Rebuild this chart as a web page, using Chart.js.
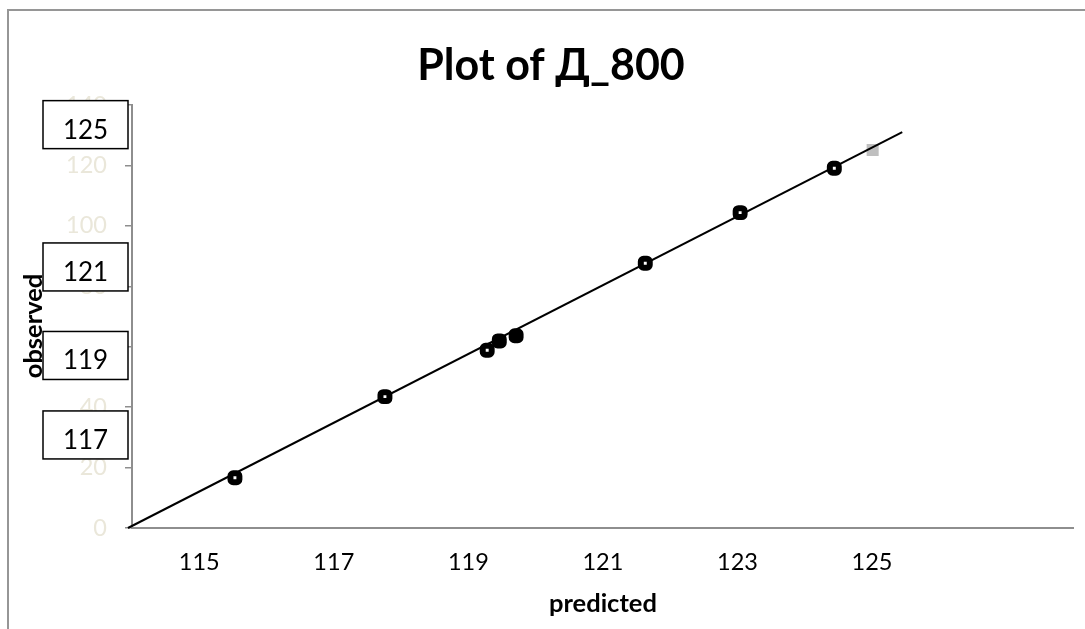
<!DOCTYPE html>
<html>
<head>
<meta charset="utf-8">
<title>Plot of Д_800</title>
<script src="https://cdn.jsdelivr.net/npm/chart.js@4.4.0/dist/chart.umd.min.js"></script>
<style>
  html, body { margin: 0; padding: 0; background: #fff; width: 1085px; height: 629px; overflow: hidden; }
  #frame { position: absolute; left: 7px; top: 9px; width: 1200px; height: 700px;
           border-top: 2px solid #969696; border-left: 2px solid #969696; }
  #wrap { position: absolute; left: 17px; top: 0; width: 1068px; height: 629px; }
</style>
</head>
<body>
<div id="frame"></div>
<div id="wrap"><canvas id="chart"></canvas></div>
<script>
// Observed vs predicted values for Д_800
const predicted = [115.53, 117.76, 119.28, 119.46, 119.71, 121.63, 123.04, 124.44];
const observed  = [115.40, 117.76, 119.11, 119.38, 119.53, 121.64, 123.11, 124.40];

// Case left out of the fit (grey marker)
const excludedPredicted = [125.01];
const excludedObserved  = [124.93];

// Fitted line, observed = predicted
const fitPredicted = [113.94, 125.45];
const fitObserved  = [113.94, 125.45];

// Axis labels
const xTickValues = [115, 117, 119, 121, 123, 125];
const yTickValues = [0, 20, 40, 60, 80, 100, 120, 140];
const observedLabels = ['125', '121', '119', '117'];

// Markers drawn solid instead of hollow
const solidMarks = [3, 4];

Chart.defaults.font.family = 'Lato, "Open Sans", sans-serif';

const toPoints = (xs, ys) => xs.map((x, i) => ({ x, y: ys[i] }));

// Boxed value labels next to the observed axis
const boxedLabels = {
  id: 'boxedLabels',
  afterDraw(chart, args, opts) {
    const { ctx, chartArea } = chart;
    const yScale = chart.scales.y;
    ctx.save();
    opts.texts.forEach((text, i) => {
      const cy = yScale.getPixelForValue(opts.levels[i]);
      const right = chartArea.left - opts.gap;
      const left = right - opts.width;
      const top = cy - opts.height / 2;
      ctx.fillStyle = '#ffffff';
      ctx.fillRect(left, top, opts.width, opts.height);
      ctx.strokeStyle = '#000000';
      ctx.lineWidth = 1.5;
      ctx.strokeRect(left, top, opts.width, opts.height);
      ctx.fillStyle = '#000000';
      ctx.font = opts.font;
      ctx.textAlign = 'center';
      ctx.textBaseline = 'alphabetic';
      ctx.fillText(text, left + opts.width / 2, cy + opts.baselineShift);
    });
    ctx.restore();
  }
};

new Chart(document.getElementById('chart'), {
  type: 'scatter',
  data: {
    datasets: [
      {
        label: 'observed',
        data: toPoints(predicted, observed),
        xAxisID: 'x',
        yAxisID: 'yObs',
        order: 0,
        pointStyle: 'rectRounded',
        pointRadius: 5.2,
        pointBorderWidth: 6,
        pointBorderColor: '#000000',
        pointBackgroundColor: (c) => solidMarks.includes(c.dataIndex) ? '#000000' : '#ffffff',
        showLine: false
      },
      {
        label: 'fit',
        data: toPoints(fitPredicted, fitObserved),
        xAxisID: 'x',
        yAxisID: 'yObs',
        order: 1,
        showLine: true,
        borderColor: '#000000',
        borderWidth: 2,
        pointRadius: 0,
        clip: false
      },
      {
        label: 'excluded',
        data: toPoints(excludedPredicted, excludedObserved),
        xAxisID: 'x',
        yAxisID: 'yObs',
        order: 2,
        pointStyle: 'rect',
        pointRadius: 8.5,
        pointBorderWidth: 0,
        pointBackgroundColor: '#bfbfbf',
        pointBorderColor: '#bfbfbf',
        showLine: false
      }
    ]
  },
  options: {
    responsive: true,
    maintainAspectRatio: false,
    animation: false,
    layout: { padding: 0 },
    plugins: {
      legend: { display: false },
      tooltip: { enabled: false },
      title: {
        display: true,
        text: 'Plot of Д_800',
        color: '#000000',
        font: { size: 43, weight: 'bold', lineHeight: 1.2 },
        padding: { top: 40, bottom: 13.4 }
      },
      boxedLabels: {
        texts: observedLabels,
        levels: [133.5, 86.4, 57.1, 30.8],
        width: 85,
        height: 48,
        gap: 4,
        baselineShift: 14,
        font: '26px Lato, "Open Sans", sans-serif'
      }
    },
    scales: {
      x: {
        type: 'linear',
        position: 'bottom',
        min: 114,
        max: 128,
        afterBuildTicks: (s) => { s.ticks = xTickValues.map((v) => ({ value: v })); },
        afterFit: (s) => { s.height = 101; },
        grid: { display: false },
        border: { display: true, color: '#8e8e8e', width: 2 },
        ticks: { color: '#000000', font: { size: 23.5 }, padding: 12.5, maxRotation: 0,
                 callback: (v) => String(v) },
        title: { display: true, text: 'predicted', color: '#000000',
                 font: { size: 25.5, weight: 'bold', lineHeight: 1.2 },
                 padding: { top: 0, bottom: 9.5 } }
      },
      y: {
        type: 'linear',
        position: 'left',
        min: 0,
        max: 140,
        afterBuildTicks: (s) => { s.ticks = yTickValues.map((v) => ({ value: v })); },
        afterFit: (s) => { s.width = 115; },
        grid: { display: true, drawOnChartArea: false, drawTicks: true, tickLength: 7,
                color: '#8e8e8e', lineWidth: 1.5 },
        border: { display: true, color: '#8e8e8e', width: 2 },
        ticks: { color: '#eae7da', font: { size: 23.5 }, padding: 18 },
        title: { display: true, text: 'observed\u2002 ', color: '#000000',
                 font: { size: 25.5, weight: 'bold', lineHeight: 1.2 },
                 padding: { top: 1.5, bottom: 0 } }
      },
      yObs: {
        type: 'linear',
        position: 'right',
        min: 113.94,
        max: 126.24,
        afterFit: (s) => { s.width = 11; },
        grid: { display: false },
        border: { display: false },
        ticks: { display: false }
      }
    }
  },
  plugins: [boxedLabels]
});
</script>
</body>
</html>
